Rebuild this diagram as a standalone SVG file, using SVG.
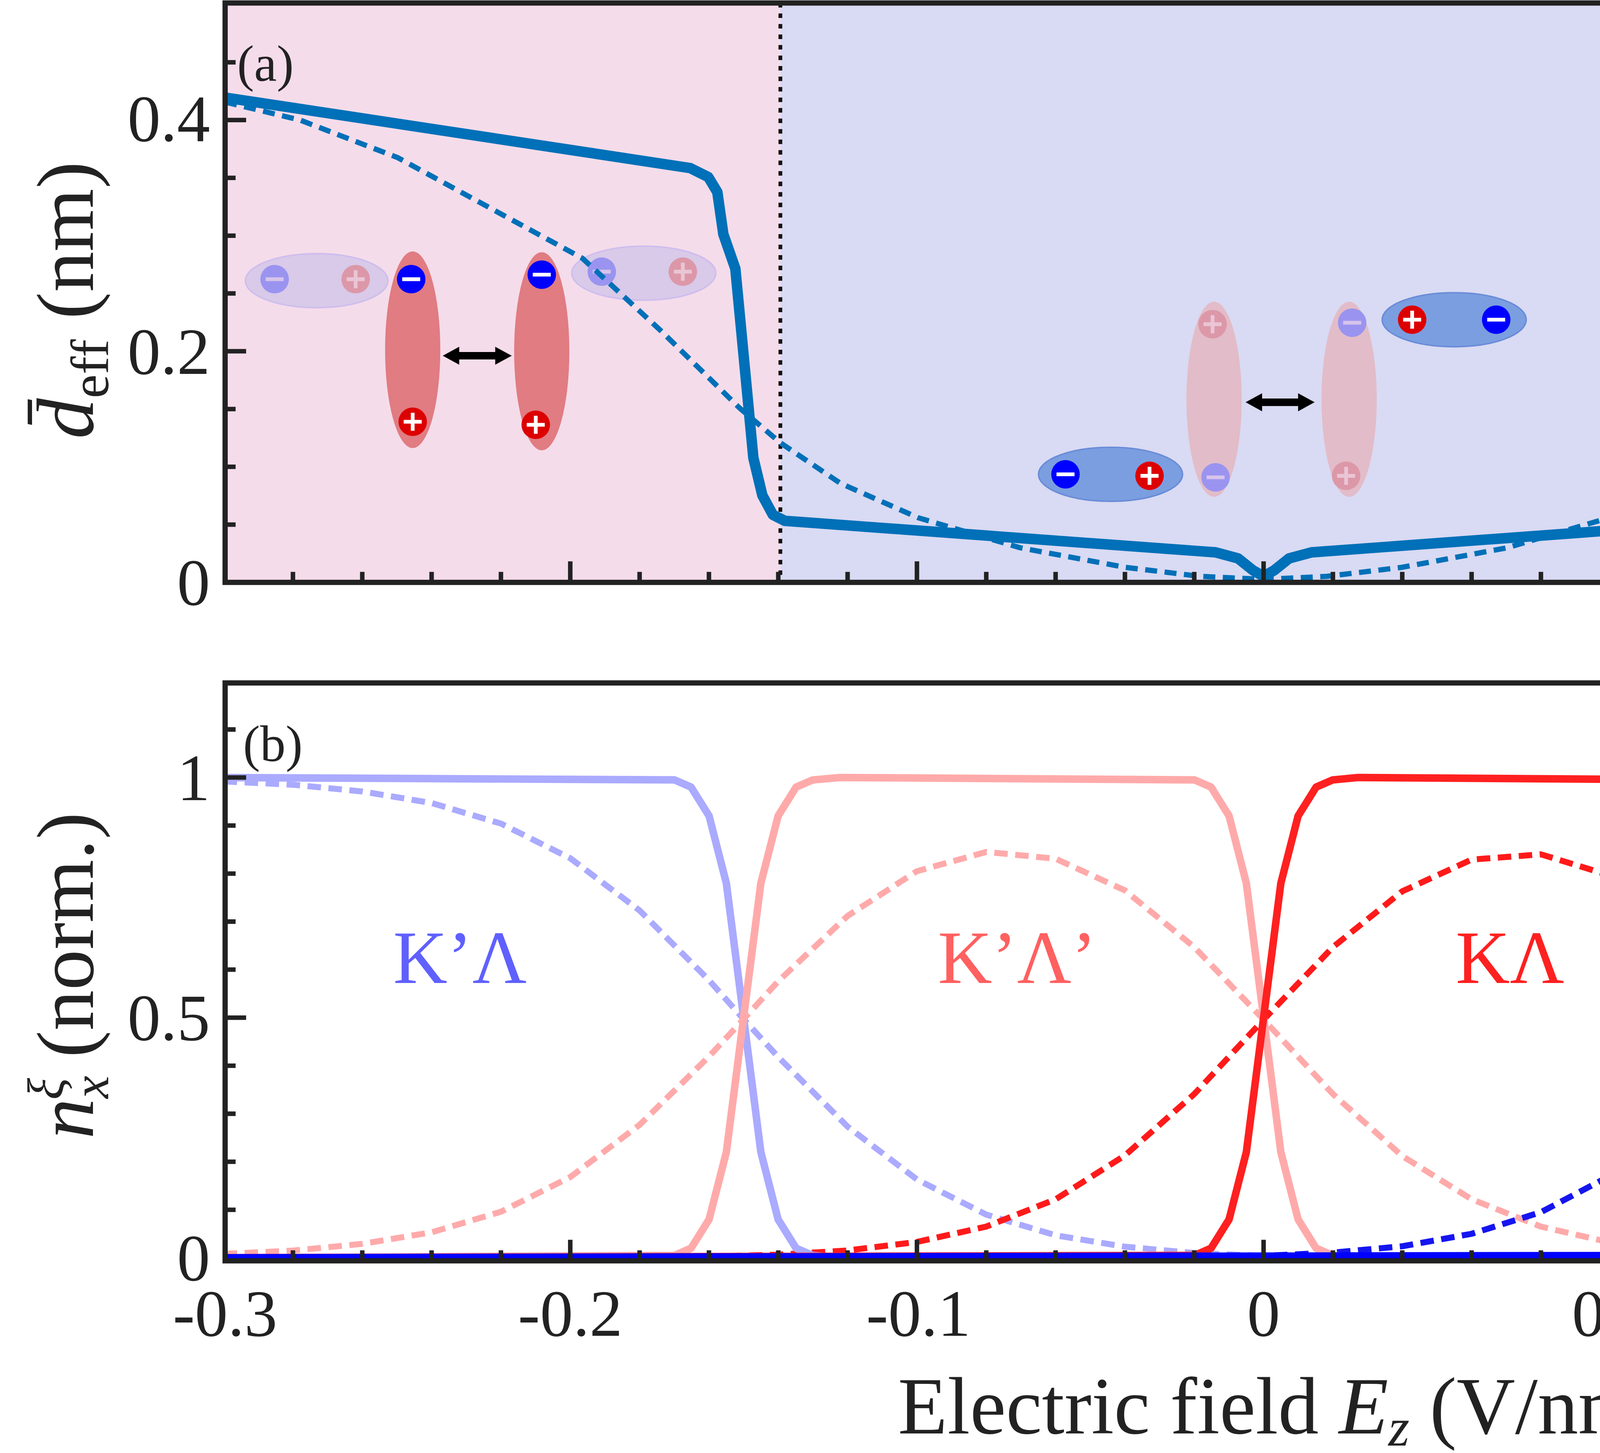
<svg xmlns="http://www.w3.org/2000/svg" width="6024" height="3719" viewBox="0 0 6024 3719">
<style>
.fr{fill:none;stroke:#222;stroke-width:3.5}
.tk{fill:none;stroke:#222;stroke-width:3}
.t{font-family:"Liberation Serif",serif;fill:#222}
.ln{fill:none;stroke-linejoin:round;stroke-linecap:butt}
.sol{stroke-width:5}
.dsh{stroke-width:4;stroke-dasharray:9 5}
.fadeh{fill:#d3c8e8;stroke:#c8b8f0;stroke-width:1;opacity:0.85}
.redv{fill:#e07c82}
.fadev{fill:#e2bcc8}
.blueh{fill:#7b9ee0;stroke:#6a8cd8;stroke-width:1}
.qm{fill:#0000ff}.qp{fill:#dd0000}
.qmf{fill:#9a94f0}.qpf{fill:#dc98a8}
.sgn{stroke:#fff;stroke-width:2.5;fill:none}
.sgnf{stroke:#f0d8e8;stroke-width:2.5;fill:none;opacity:0.7}
</style>
<defs>
<g id="minus"><circle r="9.5" class="qm"/><path class="sgn" d="M-6,0H6"/></g>
<g id="plus"><circle r="9.5" class="qp"/><path class="sgn" d="M-6,0H6M0,-6V6"/></g>
<g id="minusf"><circle r="9.5" class="qmf"/><path class="sgnf" d="M-6,0H6"/></g>
<g id="plusf"><circle r="9.5" class="qpf"/><path class="sgnf" d="M-6,0H6M0,-6V6"/></g>
<g id="arr"><path d="M-23,0l11,-6v3.5h24v-3.5l11,6l-11,6v-3.5h-24v3.5z" fill="#000"/></g>
</defs>
<rect width="6024" height="3719" fill="#fff"/>
<g transform="scale(3.8418)">
<g id="panel-a-bg">
<rect x="150" y="2" width="370" height="386" fill="#f5dcea"/>
<rect x="520" y="2" width="645" height="386" fill="#d9daf3"/>
<rect x="1165" y="2" width="400" height="386" fill="#f5dcea"/>
<path d="M520,2V388M1165,2V388" stroke="#111" stroke-width="2.5" stroke-dasharray="3 4"/>
</g>
<g id="cartoons">
<g id="left-group">
<ellipse cx="211" cy="187" rx="47.5" ry="18" class="fadeh"/>
<use href="#minusf" x="183" y="186"/><use href="#plusf" x="237" y="186"/>
<ellipse cx="275" cy="233" rx="18.4" ry="65.5" class="redv"/>
<use href="#minus" x="274" y="186"/><use href="#plus" x="275" y="281"/>
<ellipse cx="361" cy="234" rx="18.4" ry="66" class="redv"/>
<use href="#minus" x="361" y="183"/><use href="#plus" x="357" y="283"/>
<use href="#arr" x="318" y="237"/>
<ellipse cx="429" cy="182" rx="48" ry="18" class="fadeh"/>
<use href="#minusf" x="401" y="181"/><use href="#plusf" x="455" y="181"/>
</g>
<g id="mid-group">
<ellipse cx="740" cy="316" rx="48" ry="18" class="blueh"/>
<use href="#minus" x="710" y="316"/><use href="#plus" x="766" y="317"/>
<ellipse cx="809" cy="266" rx="18.4" ry="65" class="fadev"/>
<use href="#plusf" x="808" y="216"/><use href="#minusf" x="810" y="318"/>
<ellipse cx="899" cy="266" rx="18.4" ry="65" class="fadev"/>
<use href="#minusf" x="901" y="215"/><use href="#plusf" x="897" y="317"/>
<use href="#arr" x="853" y="268"/>
<ellipse cx="969" cy="213" rx="48" ry="18" class="blueh"/>
<use href="#plus" x="941" y="213"/><use href="#minus" x="997" y="213"/>
</g>
<g id="right-group">
<ellipse cx="1275" cy="296" rx="48" ry="18" class="fadeh"/>
<use href="#minusf" x="1247" y="296"/><use href="#plusf" x="1302" y="296"/>
<ellipse cx="1343" cy="246" rx="18.4" ry="66" class="redv"/>
<use href="#plus" x="1343" y="197"/><use href="#minus" x="1346" y="297"/>
<ellipse cx="1431" cy="246" rx="18.4" ry="66" class="redv"/>
<use href="#plus" x="1432" y="197"/><use href="#minus" x="1430" y="297"/>
<use href="#arr" x="1388" y="252"/>
<ellipse cx="1500" cy="298" rx="48" ry="18" class="fadeh"/>
<use href="#plusf" x="1473" y="298"/><use href="#minusf" x="1528" y="298"/>
</g>
</g>
<g id="connectors">
<path class="ln" stroke="#0070b8" stroke-width="7" d="M150,65L460,112L472,118L478,128L482,156L490,179L502,305L508,330L515,343L523,347L810,368L825,372L835,380L842,384L849,380L859,372L874,368L1161,347L1169,343L1176,330L1182,305L1194,179L1202,156L1206,128L1212,118L1224,112L1560,60"/>
<path class="ln" stroke="#0070b8" stroke-width="3.5" stroke-dasharray="8 5" d="M150,68L200,80L265,105L320,135L388,172L440,220L493,272L520,295L560,322L612,345L680,365L750,378L800,384L842,386L884,384L934,378L1004,365L1072,345L1124,322L1164,295L1191,272L1244,220L1296,172L1364,135L1419,105L1484,80L1535,68L1560,60"/>
<polyline class="ln dsh" stroke="#aaaaff" points="149,520.6 195.2,522.8 241.4,527.3 287.6,535 333.8,548.7 380,571.8 426.2,606.6 472.4,653 495.5,679 518.6,704.2 564.8,750.6 611,785.8 657.2,809.2 703.4,823 749.6,830.6 795.8,834.8 842,836.7 888.2,837.6 934.4,838 1558,838"/>
<polyline class="ln dsh" stroke="#ffaaaa" points="149,835.4 195.2,833.2 241.4,828.7 287.6,821 333.8,807.3 380,784.2 426.2,749.4 472.4,703.9 495.5,679 518.6,653.7 564.8,610.2 611,580.4 657.2,567.6 703.4,572.1 749.6,593.2 795.8,631 842,679.3 888.2,728.9 934.4,770.2 980.6,799 1026.8,817.2 1073,827.8 1119.2,833.2 1165.4,836.1 1211.6,837.4 1304,838 1558,838"/>
<polyline class="ln dsh" stroke="#ff1a1a" points="149,838 472.4,837.2 518.6,835.9 564.8,833.1 611,827.4 657.2,817.2 703.4,799 749.6,769.8 795.8,728.9 842,679.3 888.2,631 934.4,593.8 980.6,572.7 1026.8,569.2 1073,583.3 1119.2,614 1165.4,658.8 1183.9,678 1211.6,708.7 1257.8,753.5 1304,787.1 1350.2,808.9 1396.4,822 1442.6,829.4 1488.8,833.5 1535,835.4 1558,836.2"/>
<polyline class="ln dsh" stroke="#1515f0" points="149,838 749.6,837.8 795.8,837.5 842,836.7 888.2,834.5 934.4,830.3 980.6,822 1026.8,807.6 1073,783.3 1119.2,746.8 1165.4,699.1 1183.9,678 1211.6,648.2 1257.8,602.5 1304,568.9 1350.2,547.1 1396.4,534 1442.6,526.6 1488.8,522.5 1535,520.6 1558,519.9"/>
<polyline class="ln sol" stroke="#aaaaff" points="149,518 449.5,519.6 460.5,524.4 472.5,543.6 484,588.4 495.5,678 507,767.6 518.5,812.4 530.5,831.6 541.5,836.4 560,838 1558,838"/>
<polyline class="ln sol" stroke="#ffaaaa" points="149,838 449.5,836.4 460.5,831.6 472.5,812.4 484,767.6 495.5,678 507,588.4 518.5,543.6 530.5,524.4 541.5,519.6 560,518 796,519.6 807,524.4 819,543.6 830.5,588.4 842,678 853.5,767.6 865,812.4 877,831.6 888,836.4 905,838 1558,838"/>
<polyline class="ln sol" stroke="#ff2020" points="149,838 796,836.4 807,831.6 819,812.4 830.5,767.6 842,678 853.5,588.4 865,543.6 877,524.4 888,519.6 905,518 1138,519.6 1149,524.4 1161,543.6 1172.5,588.4 1184,678 1195.5,767.6 1207,812.4 1219,831.6 1230,836.4 1245,838 1558,838"/>
<polyline class="ln sol" stroke="#0000ff" points="149,838 1138,836.4 1149,831.6 1161,812.4 1172.5,767.6 1184,678 1195.5,588.4 1207,543.6 1219,524.4 1230,519.6 1245,518 1558,518"/>
</g>
<g id="axes">
<rect class="fr" x="150" y="2" width="1415" height="386"/>
<rect class="fr" x="150" y="455" width="1415" height="385"/>
<path class="tk" d="M195.2,388v-7M241.4,388v-7M287.6,388v-7M333.8,388v-7M380,388v-14M426.2,388v-7M472.4,388v-7M518.6,388v-7M564.8,388v-7M611,388v-14M657.2,388v-7M703.4,388v-7M749.6,388v-7M795.8,388v-7M842,388v-14M888.2,388v-7M934.4,388v-7M980.6,388v-7M1026.8,388v-7M1073,388v-14M1119.2,388v-7M1165.4,388v-7M1211.6,388v-7M1257.8,388v-7M1304,388v-14M1350.2,388v-7M1396.4,388v-7M1442.6,388v-7M1488.8,388v-7M1535,388v-14"/>
<path class="tk" d="M195.2,840v-7M241.4,840v-7M287.6,840v-7M333.8,840v-7M380,840v-14M426.2,840v-7M472.4,840v-7M518.6,840v-7M564.8,840v-7M611,840v-14M657.2,840v-7M703.4,840v-7M749.6,840v-7M795.8,840v-7M842,840v-14M888.2,840v-7M934.4,840v-7M980.6,840v-7M1026.8,840v-7M1073,840v-14M1119.2,840v-7M1165.4,840v-7M1211.6,840v-7M1257.8,840v-7M1304,840v-14M1350.2,840v-7M1396.4,840v-7M1442.6,840v-7M1488.8,840v-7M1535,840v-14"/>
<path class="tk" d="M150,349.5h7M150,311h7M150,272.5h7M150,234h14M150,195.5h7M150,157h7M150,118.5h7M150,80h14M150,41.5h7"/>
<path class="tk" d="M150,806h7M150,774h7M150,742h7M150,710h7M150,678h14M150,646h7M150,614h7M150,582h7M150,550h7M150,518h14M150,486h7"/>
</g>
<g id="labels">
<text class="t" x="158" y="54" font-size="34">(a)</text>
<text class="t" x="162" y="507" font-size="34">(b)</text>
<text class="t" x="1296" y="70" font-size="44" fill="#0070b8" style="fill:#0070b8">10 K</text>
<text class="t" x="1388" y="152" font-size="44" style="fill:#0070b8">100 K</text>
<g class="t" font-size="44" text-anchor="end">
<text x="140" y="94">0.4</text><text x="140" y="249">0.2</text><text x="140" y="403">0</text>
<text x="140" y="533">1</text><text x="140" y="693">0.5</text><text x="140" y="853">0</text>
</g>
<g class="t" font-size="44" text-anchor="middle">
<text x="150" y="890">-0.3</text><text x="380" y="890">-0.2</text><text x="612" y="890">-0.1</text><text x="842" y="890">0</text><text x="1075" y="890">0.1</text><text x="1307" y="890">0.2</text><text x="1537" y="890">0.3</text>
</g>
<text class="t" x="855" y="955" font-size="54" text-anchor="middle">Electric field <tspan font-style="italic">E</tspan><tspan font-style="italic" font-size="36" dy="8">z</tspan><tspan dy="-8"> (V/nm)</tspan></text>
<text class="t" transform="translate(62,200) rotate(-90)" font-size="54" text-anchor="middle"><tspan font-style="italic">d̄</tspan><tspan font-size="36" dy="10">eff</tspan><tspan dy="-10"> (nm)</tspan></text>
<text class="t" transform="translate(62,650) rotate(-90)" font-size="54" text-anchor="middle"><tspan font-style="italic">n</tspan><tspan font-style="italic" font-size="34" dy="10">x</tspan><tspan font-style="italic" font-size="34" dx="-16" dy="-30">ξ</tspan><tspan dy="20"> (norm.)</tspan></text>
<g class="t" font-size="50">
<text x="262" y="655" style="fill:#6060ff">K’Λ</text>
<text x="625" y="655" style="fill:#ff6060">K’Λ’</text>
<text x="970" y="655" style="fill:#ff2020">KΛ</text>
<text x="1295" y="655" style="fill:#1010ff">KΛ’</text>
</g>
</g>
</g>
</svg>
